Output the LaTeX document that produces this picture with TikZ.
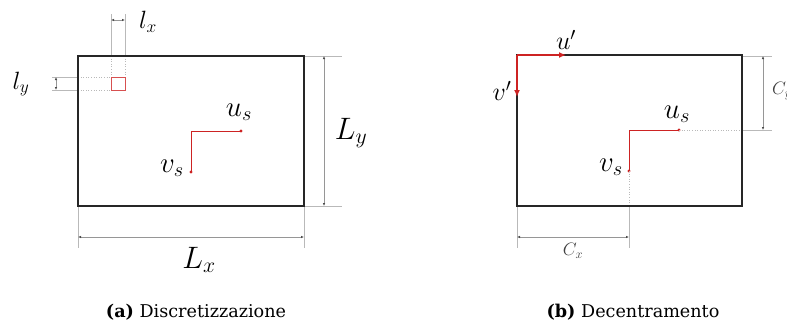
\RequirePackage{fix-cm}
\documentclass[tikz,border=0pt]{standalone}
\usepackage{fontspec}
\newfontfamily\capfont{DejaVu Serif}
\usetikzlibrary{arrows.meta}
\definecolor{myred}{RGB}{205,35,35}
\definecolor{sqred}{RGB}{215,80,80}
\definecolor{dimgray}{RGB}{150,150,150}
\definecolor{extgray}{RGB}{185,185,185}
\tikzset{
  box/.style={line width=1.8pt, black!85},
  ext/.style={line width=0.5pt, extgray},
  extdot/.style={line width=0.6pt, extgray, dotted},
  dimline/.style={line width=0.6pt, dimgray, {Latex[length=3pt,width=2.5pt,black!70]}-{Latex[length=3pt,width=2.5pt,black!70]}},
  redl/.style={line width=0.8pt, myred},
  redarr/.style={line width=2.2pt, myred, -{Latex[length=7pt,width=6pt]}},
  reddot/.style={circle, fill=myred, inner sep=0pt, minimum size=3.4pt},
  lab/.style={font=\fontsize{25}{29}\selectfont, inner sep=0pt},
  uvlab/.style={font=\fontsize{29}{33}\selectfont, inner sep=0pt},
  primelab/.style={font=\fontsize{26}{30}\selectfont, inner sep=0pt},
  biglab/.style={font=\fontsize{31}{35}\selectfont, inner sep=0pt},
  smalllab/.style={font=\fontsize{18}{21}\selectfont, inner sep=0pt, text=black!75},
  captxt/.style={font=\capfont\fontsize{17.6}{21}\selectfont, inner sep=0pt}
}
\begin{document}
\begin{tikzpicture}[x=1pt,y=-1pt]
\useasboundingbox (0,0) rectangle (787,324);
% ---------- left panel ----------
\coordinate (a1) at (78,56);
\coordinate (a2) at (304,206);
% extension lines for l_x
\coordinate (lxa) at (111,14); \coordinate (lxb) at (125,14);
\coordinate (lxa1) at (111,56); \coordinate (lxb1) at (125,56);
\coordinate (sq1) at (111,77); \coordinate (sq2) at (125,90);
\coordinate (sqtr) at (125,77); \coordinate (sqbl) at (111,90);
\draw[ext] (lxa) -- (lxa1);
\draw[ext] (lxb) -- (lxb1);
\draw[extdot] (lxa1) -- (sq1);
\draw[extdot] (lxb1) -- (sqtr);
\coordinate (lxd1) at (111,20); \coordinate (lxd2) at (125,20);
\draw[dimline] (lxd1) -- (lxd2);
\node[lab] (lx) at (148,22) {$l_x$};
% extension lines for l_y
\coordinate (lya) at (52,77); \coordinate (lyb) at (52,90);
\coordinate (lya1) at (78,77); \coordinate (lyb1) at (78,90);
\draw[ext] (lya) -- (lya1);
\draw[ext] (lyb) -- (lyb1);
\draw[extdot] (lya1) -- (sq1);
\draw[extdot] (lyb1) -- (sqbl);
\coordinate (lyd1) at (56,77); \coordinate (lyd2) at (56,90);
\draw[dimline] (lyd1) -- (lyd2);
\node[lab] (ly) at (21,84) {$l_y$};
\draw[line width=0.9pt, sqred] (sq1) rectangle (sq2);
% L_y
\coordinate (ly1) at (304,56); \coordinate (ly2) at (342,56);
\coordinate (ly3) at (304,206); \coordinate (ly4) at (342,206);
\draw[ext] (ly1) -- (ly2);
\draw[ext] (ly3) -- (ly4);
\coordinate (Lyd1) at (324,56); \coordinate (Lyd2) at (324,206);
\draw[dimline] (Lyd1) -- (Lyd2);
\node[biglab] (Ly) at (351,133) {$L_y$};
% L_x
\coordinate (lx1) at (78,206); \coordinate (lx2) at (78,248);
\coordinate (lx3) at (304,206); \coordinate (lx4) at (304,248);
\draw[ext] (lx1) -- (lx2);
\draw[ext] (lx3) -- (lx4);
\coordinate (Lxd1) at (78,237); \coordinate (Lxd2) at (304,237);
\draw[dimline] (Lxd1) -- (Lxd2);
\node[biglab] (Lx) at (199,260) {$L_x$};
% box
\draw[box] (a1) rectangle (a2);
% u_s v_s
\coordinate (ac) at (191,131);
\node[reddot] (aus) at (241,131) {};
\node[reddot] (avs) at (191,172) {};
\draw[redl] (aus.center) -- (ac) -- (avs.center);
\node[uvlab] (auslab) at (239,112) {$u_s$};
\node[uvlab] (avslab) at (172,168) {$v_s$};
\node[captxt] (capa) at (196,312) {\textbf{(a)} Discretizzazione};
% ---------- right panel ----------
\coordinate (b1) at (517,55);
\coordinate (b2) at (742,206);
\coordinate (bc) at (629,130);
\node[reddot] (bus) at (679,130) {};
\node[reddot] (bvs) at (629,171) {};
% C_y
\coordinate (cy1) at (742,130); \coordinate (cy2) at (772,130);
\coordinate (cy3) at (742,56); \coordinate (cy4) at (772,56);
\draw[extdot] (bus.center) -- (cy1);
\draw[ext] (cy1) -- (cy2);
\draw[ext] (cy3) -- (cy4);
\coordinate (Cyd1) at (763,56); \coordinate (Cyd2) at (763,130);
\draw[dimline] (Cyd1) -- (Cyd2);
\node[smalllab, anchor=west] (Cy) at (772,91) {$C_y$};
% C_x
\coordinate (cx1) at (629,206); \coordinate (cx2) at (629,248);
\coordinate (cx3) at (517,206); \coordinate (cx4) at (517,248);
\draw[extdot] (bvs.center) -- (cx1);
\draw[ext] (cx1) -- (cx2);
\draw[ext] (cx3) -- (cx4);
\coordinate (Cxd1) at (517,237); \coordinate (Cxd2) at (629,237);
\draw[dimline] (Cxd1) -- (Cxd2);
\node[smalllab] (Cx) at (573,251) {$C_x$};
% box
\draw[box] (b1) rectangle (b2);
\draw[redl] (bus.center) -- (bc) -- (bvs.center);
\node[uvlab] (buslab) at (677,114) {$u_s$};
\node[uvlab] (bvslab) at (611,167) {$v_s$};
% u' v'
\coordinate (up) at (566,55);
\coordinate (vp) at (517,97);
\draw[redarr] (b1) -- (up);
\draw[redarr] (b1) -- (vp);
\node[primelab] (uplab) at (566,40) {$u'$};
\node[primelab] (vplab) at (502,91) {$v'$};
\node[captxt] (capb) at (633,312) {\textbf{(b)} Decentramento};
\end{tikzpicture}
\end{document}
